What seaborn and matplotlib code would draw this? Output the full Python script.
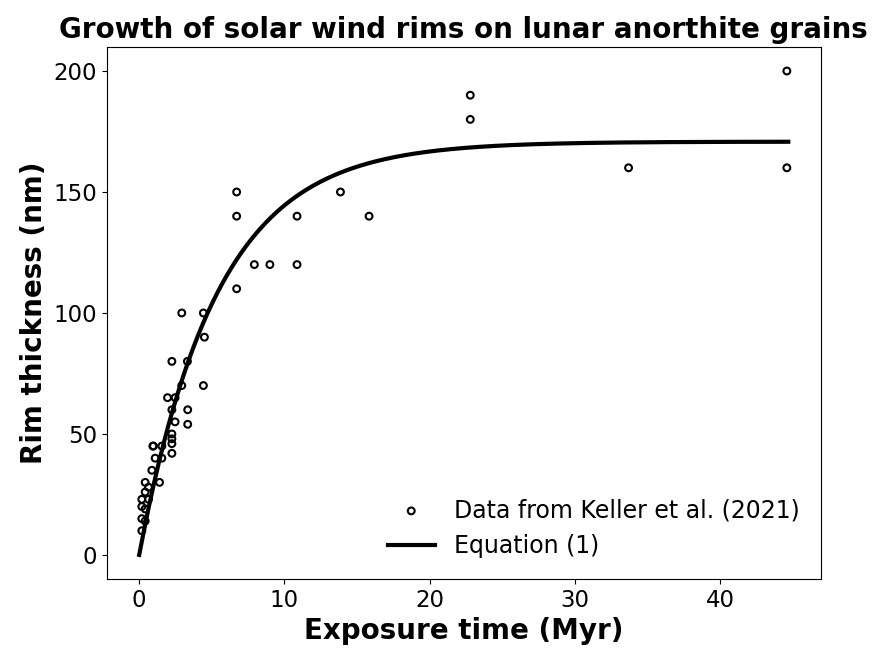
import numpy as np
import pandas as pd
import matplotlib
matplotlib.use("Agg")
import matplotlib.pyplot as plt
import seaborn as sns

# Keller et al. (2021) rim thickness measurements
exposure_myr = [
    0.18, 0.18, 0.18, 0.18, 0.41, 0.41, 0.41, 0.41, 0.64, 0.64,
    0.87, 0.94, 0.98, 1.1, 1.4, 1.56, 1.56, 1.95, 2.25, 2.25,
    2.25, 2.25, 2.25, 2.25, 2.47, 2.47, 2.93, 2.93, 3.32, 3.34,
    3.34, 4.42, 4.42, 4.49, 6.71, 6.71, 6.71, 7.93, 9.0, 10.87,
    10.87, 13.86, 15.83, 22.8, 22.8, 33.7, 44.6, 44.6,
]
rim_nm = [
    10, 15, 20, 23, 14, 19, 26, 30, 23, 28,
    35, 45, 45, 40, 30, 40, 45, 65, 42, 46,
    48, 50, 60, 80, 55, 65, 70, 100, 80, 54,
    60, 70, 100, 90, 150, 140, 110, 120, 120, 140,
    120, 150, 140, 190, 180, 160, 200, 160,
]

# Equation (1): saturating growth h = h_max * (1 - exp(-t / tau))
h_max = 170.8
tau = 5.35
t_max = 44.7

data = pd.DataFrame({"t": exposure_myr, "h": rim_nm})
t_fit = np.linspace(0, t_max, 400)
fit = pd.DataFrame({"t": t_fit, "h": h_max * (1 - np.exp(-t_fit / tau))})

fig, ax = plt.subplots(figsize=(8.75, 6.5), dpi=100)
fig.subplots_adjust(left=0.122, right=0.938, top=0.928, bottom=0.109)

sns.scatterplot(data=data, x="t", y="h", ax=ax, marker="o", s=24,
                facecolor="none", edgecolor="black", linewidth=1.5,
                label="Data from Keller et al. (2021)")
sns.lineplot(data=fit, x="t", y="h", ax=ax, color="black", linewidth=3,
             label="Equation (1)")

ax.set_title("Growth of solar wind rims on lunar anorthite grains",
             fontsize=20, fontweight="bold")
ax.set_xlabel("Exposure time (Myr)", fontsize=20, fontweight="bold")
ax.set_ylabel("Rim thickness (nm)", fontsize=20, fontweight="bold")
ax.tick_params(labelsize=16.5)
ax.set_yticks([0, 50, 100, 150, 200])
ax.legend(loc="lower right", frameon=False, fontsize=17)

plt.savefig("out.png", dpi=100)
plt.close()
